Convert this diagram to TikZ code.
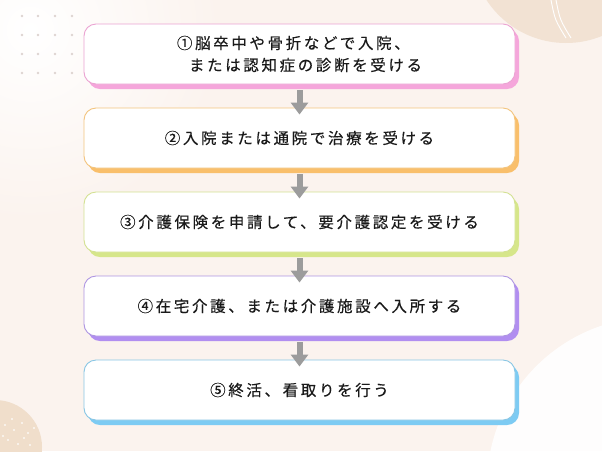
\documentclass[tikz,border=0pt]{standalone}
\usepackage{fontspec}
\setmainfont{Noto Sans CJK JP}[LetterSpace=17,FakeBold=0.3]
\usetikzlibrary{shadows,arrows.meta}
\definecolor{bg}{HTML}{FBF3EE}
\definecolor{beige}{HTML}{F2E2D3}
\definecolor{beigeB}{HTML}{F0DECB}
\definecolor{griddot}{HTML}{DDD4D0}
\definecolor{ink}{HTML}{1A1A1A}
\definecolor{arrowgray}{HTML}{9C9C9C}
\definecolor{pinkB}{HTML}{EBA3D2}
\definecolor{pinkS}{HTML}{F5A6DB}
\definecolor{orangeB}{HTML}{F3C47E}
\definecolor{orangeS}{HTML}{F9BF6B}
\definecolor{limeB}{HTML}{D3E192}
\definecolor{limeS}{HTML}{D6E68A}
\definecolor{purpleB}{HTML}{AE95E2}
\definecolor{purpleS}{HTML}{B18EF0}
\definecolor{blueB}{HTML}{88C6E4}
\definecolor{blueS}{HTML}{7DCBF3}
\begin{document}
\begin{tikzpicture}[x=1pt,y=-1pt,
  stepbox/.style={rectangle, rounded corners=12pt, minimum width=431pt,
    minimum height=60pt, fill=white, line width=0.9pt, inner sep=0pt,
    text=ink, font=\fontsize{15.5}{22}\selectfont,
    drop shadow={shadow xshift=4pt, shadow yshift=-5pt, fill=#1, opacity=1}},
  flowarrow/.style={draw=arrowgray, line width=6pt,
    -{Triangle[width=17pt,length=12pt,fill=arrowgray]}}
]
\useasboundingbox (0,0) rectangle (602,451);
% background
\fill[bg] (0,0) rectangle (602,451);
\shade[inner color=white, outer color=bg] (30,30) circle (190);
\fill[white, opacity=0.9] (655,485) circle (168);
\begin{scope}
  \clip (566,-52) circle (95);
  \fill[beige] (566,-52) circle (95);
  \draw[white, line width=0.9pt] (551,0) .. controls (555,20) .. (566,38);
  \draw[white, line width=0.9pt] (556,0) .. controls (560,20) .. (571,38);
\end{scope}
\fill[beigeB] (-5,447) circle (47);
\foreach \p in {(5,425),(14,430),(22,423),(28,433),(8,440),(18,444),(30,445),(3,436),(24,438),(12,419),(34,428)}
  \fill[white, opacity=0.8] \p circle (1.1);
\foreach \gx in {22,38,55,72}
  \foreach \gy in {16,35,54,73}
    \fill[griddot] (\gx,\gy) circle (1.3);
% boxes
\node[stepbox=pinkS, draw=pinkB, align=left] (b1) at (299.5,54)
  {①脳卒中や骨折などで入院、\\\hspace*{12pt}または認知症の診断を受ける};
\node[stepbox=orangeS, draw=orangeB] (b2) at (299.5,138)
  {②入院または通院で治療を受ける};
\node[stepbox=limeS, draw=limeB] (b3) at (299.5,222)
  {③介護保険を申請して、要介護認定を受ける};
\node[stepbox=purpleS, draw=purpleB] (b4) at (299.5,306)
  {④在宅介護、または介護施設へ入所する};
\node[stepbox=blueS, draw=blueB] (b5) at (299.5,390)
  {⑤終活、看取りを行う};
% arrows
\draw[flowarrow] ([yshift=-6pt]b1.south) -- ([yshift=-7pt]b2.north);
\draw[flowarrow] ([yshift=-6pt]b2.south) -- ([yshift=-7pt]b3.north);
\draw[flowarrow] ([yshift=-6pt]b3.south) -- ([yshift=-7pt]b4.north);
\draw[flowarrow] ([yshift=-6pt]b4.south) -- ([yshift=-7pt]b5.north);
\end{tikzpicture}
\end{document}
